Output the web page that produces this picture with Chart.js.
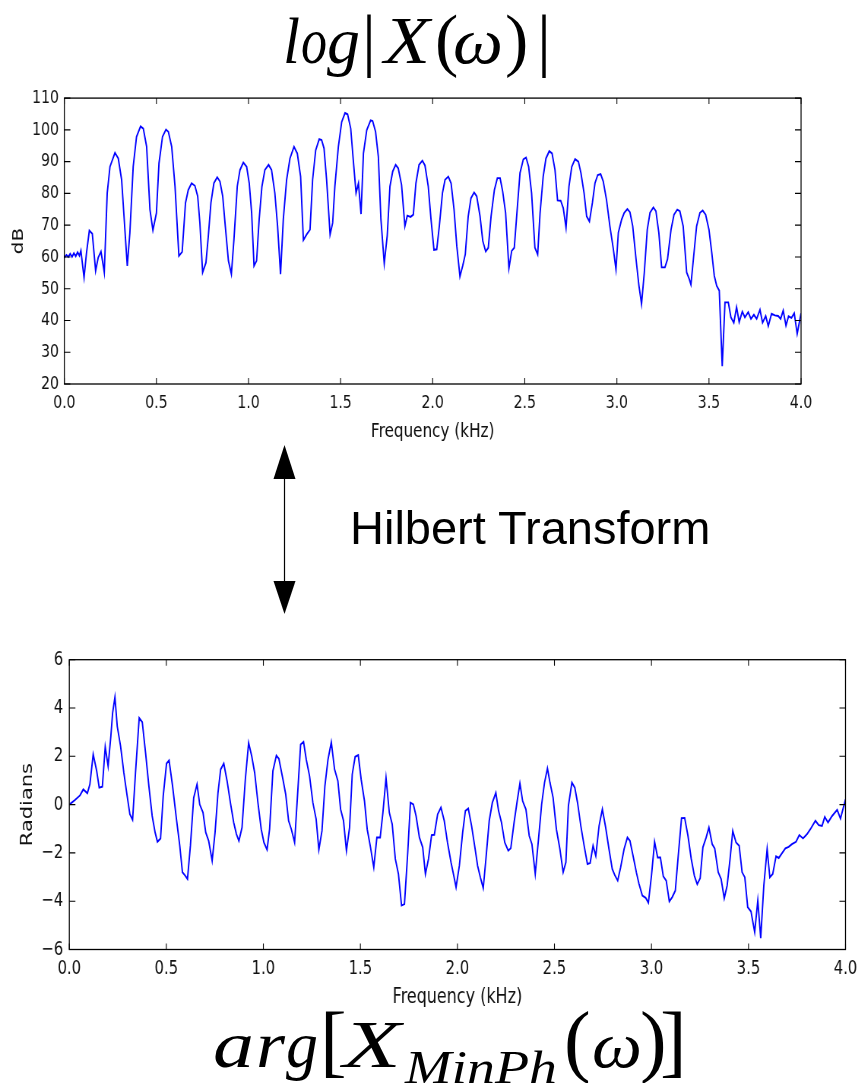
<!DOCTYPE html>
<html>
<head>
<meta charset="utf-8">
<script src="https://cdn.jsdelivr.net/npm/chart.js@4.4.1/dist/chart.umd.min.js"></script>
<style>
  html, body { margin:0; padding:0; background:#fff; width:863px; height:1083px; overflow:hidden; }
  canvas { position:absolute; left:0; transform-origin:0 0; }
  #c1 { top:80px; transform:scaleX(0.76); }
  #c2 { top:640px; transform:scaleX(0.76); }
  svg { position:absolute; left:0; top:0; }
</style>
</head>
<body>
<canvas id="c1" width="1136" height="364"></canvas>
<canvas id="c2" width="1136" height="370"></canvas>
<svg width="863" height="1083" xmlns="http://www.w3.org/2000/svg">
  <g font-family="Liberation Serif, DejaVu Serif, serif" fill="#000">
    <text x="283" y="63" font-size="66" font-style="italic" textLength="17" lengthAdjust="spacingAndGlyphs">l</text>
    <text x="301" y="63" font-size="66" font-style="italic" textLength="26" lengthAdjust="spacingAndGlyphs">o</text>
    <text x="327" y="63" font-size="66" font-style="italic" textLength="33" lengthAdjust="spacingAndGlyphs">g</text>
    <text x="362" y="63" font-size="70">|</text>
    <text x="384" y="63" font-size="68" font-style="italic" textLength="46" lengthAdjust="spacingAndGlyphs">X</text>
    <text x="435" y="63" font-size="70">(</text>
    <text x="453" y="63" font-size="66" font-style="italic" textLength="50" lengthAdjust="spacingAndGlyphs">ω</text>
    <text x="505" y="63" font-size="70">)</text>
    <text x="537" y="63" font-size="70">|</text>

    <text x="213" y="1067" font-size="66" font-style="italic" textLength="41" lengthAdjust="spacingAndGlyphs">a</text>
    <text x="256" y="1067" font-size="66" font-style="italic" textLength="29" lengthAdjust="spacingAndGlyphs">r</text>
    <text x="286" y="1067" font-size="66" font-style="italic" textLength="32" lengthAdjust="spacingAndGlyphs">g</text>
    <text x="320" y="1067" font-size="80">[</text>
    <text x="343" y="1067" font-size="68" font-style="italic" textLength="58" lengthAdjust="spacingAndGlyphs">X</text>
    <text x="405" y="1083" font-size="46" font-style="italic" textLength="152" lengthAdjust="spacingAndGlyphs">MinPh</text>
    <text x="564" y="1067" font-size="80">(</text>
    <text x="592" y="1067" font-size="66" font-style="italic" textLength="50" lengthAdjust="spacingAndGlyphs">ω</text>
    <text x="640" y="1067" font-size="80">)</text>
    <text x="660" y="1067" font-size="80">]</text>
  </g>
  <text x="350" y="544" font-family="Liberation Sans, Arial, sans-serif" font-size="47" fill="#000">Hilbert Transform</text>
  <line x1="284.5" y1="478" x2="284.5" y2="582" stroke="#000" stroke-width="1.2"/>
  <polygon points="284.5,445 273.5,479 295.5,479" fill="#000"/>
  <polygon points="284.5,614 273.5,581 295.5,581" fill="#000"/>
</svg>
<script>
// ---- Data: top panel, log magnitude (dB) ----
const freqTop = [0.000,0.012,0.022,0.032,0.042,0.052,0.062,0.072,0.082,0.090,0.107,0.120,0.136,0.152,0.170,0.184,0.199,0.217,0.233,0.248,0.275,0.293,0.311,0.342,0.356,0.374,0.392,0.414,0.429,0.447,0.465,0.481,0.500,0.514,0.533,0.552,0.565,0.583,0.601,0.622,0.640,0.658,0.673,0.691,0.709,0.724,0.736,0.751,0.769,0.782,0.796,0.812,0.830,0.845,0.860,0.874,0.891,0.907,0.921,0.939,0.954,0.972,0.990,1.004,1.017,1.030,1.044,1.058,1.073,1.089,1.109,1.125,1.143,1.158,1.174,1.189,1.207,1.225,1.247,1.265,1.283,1.298,1.316,1.334,1.348,1.365,1.384,1.397,1.410,1.424,1.443,1.457,1.469,1.488,1.506,1.524,1.538,1.555,1.569,1.584,1.597,1.611,1.624,1.642,1.663,1.674,1.690,1.705,1.719,1.737,1.753,1.768,1.783,1.799,1.813,1.831,1.849,1.862,1.880,1.895,1.909,1.926,1.944,1.958,1.976,1.991,2.007,2.022,2.036,2.053,2.067,2.085,2.100,2.116,2.131,2.148,2.163,2.177,2.193,2.208,2.225,2.239,2.257,2.272,2.288,2.302,2.317,2.335,2.351,2.366,2.380,2.396,2.414,2.429,2.443,2.460,2.474,2.492,2.507,2.521,2.537,2.555,2.570,2.583,2.600,2.615,2.633,2.648,2.664,2.678,2.695,2.709,2.724,2.740,2.755,2.773,2.791,2.805,2.822,2.836,2.851,2.867,2.881,2.896,2.912,2.926,2.944,2.962,2.981,2.995,3.008,3.026,3.040,3.057,3.071,3.086,3.104,3.120,3.134,3.149,3.165,3.180,3.198,3.212,3.228,3.243,3.261,3.275,3.294,3.310,3.328,3.342,3.360,3.379,3.393,3.402,3.419,3.433,3.451,3.466,3.482,3.500,3.515,3.529,3.542,3.556,3.572,3.587,3.605,3.619,3.635,3.650,3.664,3.681,3.695,3.713,3.728,3.744,3.759,3.777,3.791,3.808,3.822,3.840,3.858,3.876,3.889,3.903,3.918,3.932,3.948,3.963,3.979,4.000];
const dbTop = [59.8,60.6,60.0,61.0,60.0,61.2,60.2,61.5,60.4,62.0,53.5,61.0,68.3,67.3,55.6,59.8,61.7,55.1,80.1,88.4,92.8,91.0,84.3,57.2,67.6,88.4,97.8,101.1,100.4,94.7,74.9,68.4,73.8,89.5,97.8,100.1,99.4,94.7,82.2,60.3,61.6,77.0,81.1,83.2,82.4,79.1,70.7,55.1,58.2,66.6,77.0,83.2,85.1,83.8,79.1,69.7,58.8,54.6,65.5,82.2,87.4,89.7,88.4,83.2,73.9,57.2,58.8,71.8,82.2,87.4,89.0,87.4,80.1,69.7,54.6,71.8,84.3,91.0,94.7,92.6,85.3,65.3,67.1,68.6,84.3,93.6,97.1,96.8,94.2,84.3,67.1,70.7,82.2,94.7,102.5,105.3,104.9,100.4,90.5,80.1,83.2,73.5,92.6,99.9,103.0,102.8,99.4,91.6,71.8,57.9,66.6,82.2,86.9,89.0,87.9,82.7,69.7,73.0,72.6,73.3,83.2,89.0,90.3,88.8,82.2,71.8,62.2,62.4,69.7,80.1,84.3,85.3,83.2,74.9,63.4,53.9,57.2,60.8,72.8,78.5,80.3,79.1,72.8,65.0,61.7,62.9,72.8,81.1,84.8,84.8,80.6,73.9,56.4,61.9,62.9,75.9,86.4,90.7,91.3,88.4,80.1,62.9,60.8,73.9,85.3,91.0,93.3,92.6,87.4,77.8,77.7,75.4,69.2,82.2,88.4,90.8,90.0,86.4,80.1,72.8,71.2,77.0,83.2,85.8,86.1,83.8,77.9,69.7,62.4,56.1,67.6,71.8,73.9,75.1,74.1,69.7,59.3,50.9,45.2,55.1,68.6,73.9,75.6,74.4,67.6,56.7,56.7,59.3,68.6,73.3,74.9,74.4,69.7,55.1,53.0,51.3,61.4,69.7,73.9,74.6,73.3,68.6,61.4,54.1,50.9,49.4,25.6,45.7,45.7,41.0,39.3,44.2,39.5,42.8,41.0,42.6,40.5,41.8,40.5,43.4,39.3,41.4,38.2,42.1,41.6,41.4,40.5,43.1,38.4,41.3,40.8,42.3,35.8,42.3];

// ---- Data: bottom panel, minimum-phase phase (radians) ----
const freqBottom = [0.000,0.029,0.055,0.072,0.093,0.106,0.123,0.141,0.154,0.170,0.185,0.200,0.214,0.223,0.235,0.247,0.264,0.281,0.298,0.312,0.326,0.341,0.360,0.376,0.393,0.410,0.427,0.442,0.454,0.470,0.484,0.501,0.514,0.532,0.552,0.569,0.583,0.597,0.609,0.624,0.641,0.658,0.672,0.689,0.703,0.718,0.736,0.751,0.766,0.780,0.796,0.813,0.830,0.847,0.861,0.874,0.890,0.907,0.924,0.940,0.955,0.972,0.989,1.003,1.019,1.032,1.049,1.067,1.080,1.101,1.115,1.130,1.144,1.161,1.178,1.192,1.207,1.221,1.238,1.255,1.272,1.286,1.302,1.317,1.333,1.350,1.367,1.384,1.398,1.413,1.428,1.444,1.458,1.473,1.489,1.504,1.521,1.535,1.552,1.569,1.585,1.602,1.616,1.632,1.649,1.664,1.680,1.696,1.712,1.727,1.744,1.758,1.773,1.787,1.804,1.821,1.835,1.851,1.867,1.881,1.898,1.915,1.932,1.949,1.967,1.981,1.993,2.010,2.027,2.041,2.056,2.073,2.090,2.104,2.118,2.133,2.147,2.164,2.180,2.198,2.212,2.227,2.244,2.262,2.275,2.292,2.308,2.322,2.336,2.353,2.370,2.384,2.401,2.417,2.434,2.449,2.464,2.477,2.493,2.510,2.528,2.545,2.559,2.572,2.590,2.605,2.619,2.636,2.653,2.670,2.684,2.699,2.713,2.730,2.747,2.764,2.781,2.798,2.812,2.826,2.841,2.859,2.876,2.889,2.905,2.922,2.936,2.953,2.970,2.984,3.000,3.016,3.032,3.046,3.061,3.076,3.092,3.107,3.123,3.138,3.155,3.171,3.188,3.205,3.221,3.236,3.251,3.265,3.282,3.296,3.313,3.326,3.344,3.359,3.375,3.390,3.405,3.419,3.436,3.452,3.467,3.481,3.496,3.513,3.532,3.548,3.563,3.579,3.596,3.610,3.625,3.642,3.656,3.673,3.690,3.707,3.724,3.745,3.762,3.781,3.802,3.819,3.845,3.862,3.879,3.893,3.910,3.931,3.957,3.974,4.000];
const radBottom = [0.00,0.19,0.38,0.63,0.47,0.84,2.08,1.39,0.70,0.74,2.39,1.59,2.83,3.79,4.45,3.24,2.42,1.32,0.36,-0.40,-0.63,1.32,3.59,3.41,2.14,0.77,-0.47,-1.15,-1.54,-1.40,0.36,1.70,1.83,0.77,-0.60,-1.70,-2.80,-2.94,-3.08,-1.70,0.29,0.84,0.01,-0.33,-1.15,-1.50,-2.32,-1.15,0.49,1.46,1.70,0.98,0.08,-0.74,-1.22,-1.50,-0.95,1.04,2.56,2.00,1.32,0.08,-1.02,-1.57,-1.87,-1.02,1.39,2.03,1.90,1.04,0.43,-0.67,-1.02,-1.57,0.63,2.49,2.60,1.87,1.18,0.08,-0.60,-1.87,-1.09,0.77,1.87,2.58,1.46,0.98,-0.19,-0.67,-1.91,-0.95,1.25,1.98,2.05,1.04,0.15,-1.02,-1.77,-2.60,-1.36,-1.36,-0.33,1.11,-0.33,-0.81,-2.25,-2.87,-4.18,-4.12,-1.98,0.08,0.01,-0.47,-1.36,-1.77,-2.87,-2.25,-1.26,-1.25,-0.40,-0.12,-0.67,-1.57,-2.39,-2.94,-3.42,-2.53,-1.15,-0.26,-0.16,-0.88,-1.77,-2.53,-3.01,-3.46,-2.25,-0.67,0.08,0.49,-0.26,-0.74,-1.57,-1.91,-1.81,-0.74,0.15,0.87,0.15,-0.19,-1.29,-1.64,-2.87,-1.50,0.01,0.91,1.50,0.91,0.29,-1.02,-1.84,-2.80,-2.39,-0.05,0.91,0.70,0.08,-0.88,-1.70,-2.46,-2.42,-1.70,-2.12,-0.88,-0.19,-0.95,-1.84,-2.67,-2.94,-3.15,-2.60,-1.84,-1.36,-1.50,-2.12,-2.80,-3.29,-3.77,-3.86,-4.07,-2.94,-1.54,-2.19,-2.19,-2.97,-3.15,-4.01,-3.83,-3.56,-2.12,-0.56,-0.55,-1.29,-2.25,-2.94,-3.30,-3.05,-1.77,-1.36,-0.95,-1.64,-1.81,-2.80,-3.08,-3.88,-3.35,-2.25,-1.09,-1.57,-1.70,-2.80,-3.01,-4.25,-4.43,-5.28,-3.97,-5.53,-3.35,-1.84,-3.01,-2.87,-2.14,-2.21,-2.01,-1.81,-1.75,-1.64,-1.54,-1.26,-1.40,-1.22,-1.02,-0.67,-0.85,-0.88,-0.51,-0.74,-0.47,-0.22,-0.58,0.22];

// ---- Tick labels ----
const xTicks = [0.0,0.5,1.0,1.5,2.0,2.5,3.0,3.5,4.0];
const yTicksTop = [20,30,40,50,60,70,80,90,100,110];
const yTicksBottom = [-6,-4,-2,0,2,4,6];

const fmtNum = v => (v < 0 ? '\u2212' + Math.abs(v) : String(v));

const framePlugin = {
  id: 'frame',
  afterDraw(chart) {
    const {ctx, chartArea: a, scales} = chart;
    ctx.save();
    ctx.strokeStyle = '#000';
    ctx.lineWidth = 1.3;
    ctx.strokeRect(a.left, a.top, a.right - a.left, a.bottom - a.top);
    ctx.lineWidth = 1.1;
    ctx.beginPath();
    scales.x.ticks.forEach(t => {
      const px = scales.x.getPixelForValue(t.value);
      ctx.moveTo(px, a.bottom); ctx.lineTo(px, a.bottom - 6);
      ctx.moveTo(px, a.top); ctx.lineTo(px, a.top + 6);
    });
    scales.y.ticks.forEach(t => {
      const py = scales.y.getPixelForValue(t.value);
      ctx.moveTo(a.left, py); ctx.lineTo(a.left + 8, py);
      ctx.moveTo(a.right, py); ctx.lineTo(a.right - 8, py);
    });
    ctx.stroke();
    ctx.restore();
  }
};

function makeChart(id, xs, ys, cfg) {
  const pts = xs.map((x, i) => ({x: x, y: ys[i]}));
  return new Chart(document.getElementById(id), {
    type: 'line',
    data: { datasets: [{ data: pts, borderColor: '#0000ff', borderWidth: 1.9, pointRadius: 0, tension: 0, fill: false }] },
    options: {
      responsive: false, animation: false, devicePixelRatio: 1,
      layout: { padding: cfg.padding },
      plugins: { legend: { display: false }, tooltip: { enabled: false } },
      scales: {
        x: {
          type: 'linear', min: 0, max: 4,
          afterBuildTicks: s => { s.ticks = xTicks.map(v => ({value: v})); },
          afterFit: s => { s.height = cfg.xHeight; },
          grid: { display: false, drawTicks: false }, border: { display: false },
          ticks: { autoSkip: false, maxRotation: 0, padding: cfg.xPad, color: '#111',
                   font: { family: 'DejaVu Sans', size: cfg.tickSize },
                   callback: v => Number(v).toFixed(1) },
          title: { display: true, text: 'Frequency (kHz)', color: '#111',
                   font: { family: 'DejaVu Sans', size: cfg.titleSize }, padding: { top: 0, bottom: 0 } }
        },
        y: {
          type: 'linear', min: cfg.ymin, max: cfg.ymax,
          afterBuildTicks: s => { s.ticks = cfg.yTicks.map(v => ({value: v})); },
          afterFit: s => { s.width = cfg.yWidth; },
          grid: { display: false, drawTicks: false }, border: { display: false },
          ticks: { autoSkip: false, padding: cfg.yPad, color: '#111',
                   font: { family: 'DejaVu Sans', size: cfg.tickSize },
                   callback: v => fmtNum(v) },
          title: { display: true, text: cfg.yTitle, color: '#111',
                   font: { family: 'DejaVu Sans', size: cfg.titleSize }, padding: { top: cfg.yTitlePad, bottom: 0 } }
        }
      }
    },
    plugins: [framePlugin]
  });
}

makeChart('c1', freqTop, dbTop, {
  padding: { top: 16, right: 82, left: 0, bottom: 0 },
  xHeight: 60, yWidth: 84.6, xPad: 8, yPad: 7, tickSize: 18.5, titleSize: 20,
  ymin: 20, ymax: 110, yTicks: yTicksTop, yTitle: 'dB', yTitlePad: 12.6
});
makeChart('c2', freqBottom, radBottom, {
  padding: { top: 18.5, right: 21.5, left: 0, bottom: 0 },
  xHeight: 60.5, yWidth: 91.2, xPad: 8, yPad: 8, tickSize: 19.5, titleSize: 21,
  ymin: -6, ymax: 6, yTicks: yTicksBottom, yTitle: 'Radians', yTitlePad: 23.6
});
</script>
</body>
</html>
